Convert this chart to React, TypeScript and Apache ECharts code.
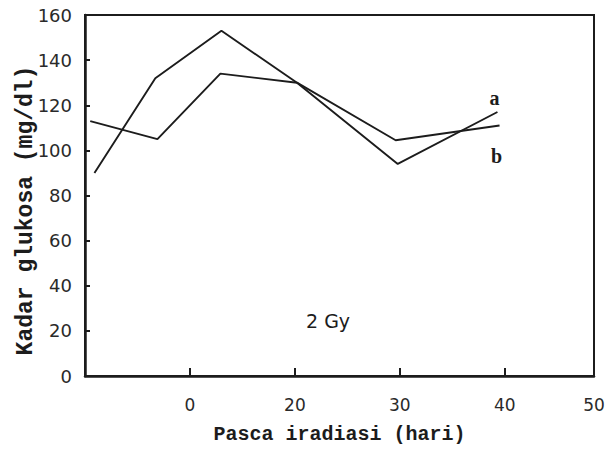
import React, { useEffect, useRef } from "react";
import * as echarts from "echarts";

// x in axis units (one tick interval = 10 units; ticks labelled as in the original)
const daysA = [0.9, 6.7, 13.0, 20.2, 29.8, 39.3];
const glucoseA = [90, 132, 153, 130, 94, 117];
const daysB = [0.5, 6.9, 12.9, 20.2, 29.6, 39.5];
const glucoseB = [113, 105, 134, 130, 104.5, 111];

const xTickValues = [10, 20, 30, 40, 48.5];
const xTickLabels = ["0", "20", "30", "40", "50"];
const seriesNames = ["a", "b"];
const doseLabel = "2 Gy";

export default function App() {
  const ref = useRef<HTMLDivElement>(null);
  useEffect(() => {
    document.body.style.margin = "0";
    if (!ref.current) return;
    const chart = echarts.init(ref.current, null, { renderer: "svg" });
    const ink = "#1c1c1c";
    const mkData = (xs: number[], ys: number[], name: string, pos: string, dist: number) =>
      xs.map((x, i) =>
        i === xs.length - 1
          ? {
              value: [x, ys[i]],
              label: {
                show: true,
                formatter: name,
                position: pos,
                distance: dist,
                offset: [-3, 0],
                fontFamily: "Liberation Serif",
                fontWeight: "bold",
                fontSize: 20,
                color: ink,
              },
            }
          : { value: [x, ys[i]] }
      );
    chart.setOption({
      animation: false,
      backgroundColor: "#ffffff",
      grid: {
        left: 85,
        right: 21,
        top: 15,
        bottom: 71,
        show: true,
        borderColor: ink,
        borderWidth: 2,
      },
      xAxis: {
        type: "value",
        min: 0,
        max: 48.5,
        interval: 10,
        name: "Pasca iradiasi (hari)",
        nameLocation: "middle",
        nameGap: 48,
        nameTextStyle: {
          fontFamily: "Liberation Mono",
          fontWeight: "bold",
          fontSize: 20,
          color: ink,
        },
        axisLine: { lineStyle: { color: ink, width: 2.5 } },
        axisTick: {
          inside: true,
          length: 8,
          lineStyle: { color: ink, width: 2 },
        },
        splitLine: { show: false },
        axisLabel: {
          margin: 20,
          fontFamily: "DejaVu Sans",
          fontSize: 17,
          color: "#2a2a2a",
          showMinLabel: false,
          formatter: (v: number) => {
            const i = xTickValues.findIndex((t) => Math.abs(t - v) < 1e-6);
            return i >= 0 ? xTickLabels[i] : "";
          },
        },
      },
      yAxis: {
        type: "value",
        min: 0,
        max: 160,
        interval: 20,
        name: "Kadar glukosa (mg/dl)",
        nameLocation: "middle",
        nameGap: 48,
        nameMoveOverlap: false,
        nameTextStyle: {
          fontFamily: "Liberation Mono",
          fontWeight: "bold",
          fontSize: 23,
          color: ink,
          padding: [0, 30, 0, 0],
        },
        axisLine: { show: true, lineStyle: { color: ink, width: 2.5 } },
        axisTick: {
          show: true,
          inside: true,
          length: 5,
          lineStyle: { color: ink, width: 2 },
        },
        splitLine: { show: false },
        axisLabel: {
          margin: 13,
          fontFamily: "DejaVu Sans",
          fontSize: 18,
          color: "#2a2a2a",
        },
      },
      series: [
        {
          type: "line",
          name: seriesNames[0],
          data: mkData(daysA, glucoseA, seriesNames[0], "top", 4),
          showSymbol: true,
          symbol: "circle",
          symbolSize: 1,
          itemStyle: { color: "transparent" },
          lineStyle: { color: ink, width: 1.9 },
        },
        {
          type: "line",
          name: seriesNames[1],
          data: mkData(daysB, glucoseB, seriesNames[1], "bottom", 20),
          showSymbol: true,
          symbol: "circle",
          symbolSize: 1,
          itemStyle: { color: "transparent" },
          lineStyle: { color: ink, width: 1.9 },
        },
      ],
      graphic: [
        {
          type: "text",
          left: 306,
          top: 311,
          style: {
            text: doseLabel,
            fontFamily: "DejaVu Sans",
            fontSize: 19,
            fill: ink,
          },
        },
      ],
    });
    return () => chart.dispose();
  }, []);
  return <div ref={ref} style={{ width: 615, height: 449 }} />;
}
